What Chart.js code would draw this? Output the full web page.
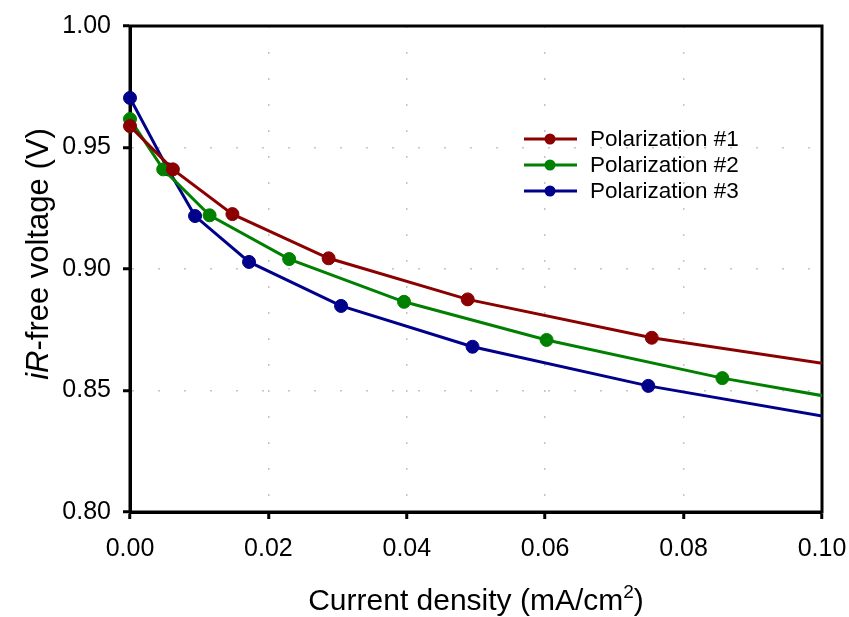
<!DOCTYPE html>
<html>
<head>
<meta charset="utf-8">
<script src="https://cdn.jsdelivr.net/npm/chart.js@4/dist/chart.umd.min.js"></script>
<style>
  html, body { margin: 0; padding: 0; background: #fff; overflow: hidden; }
  canvas { display: block; }
</style>
</head>
<body>
<canvas id="chart" width="849" height="617"></canvas>
<script>
// values (current density in mA/cm2, iR-free voltage in V)
const pol1X = [0, 0.0062, 0.0148, 0.0287, 0.0488, 0.0754, 0.110];
const pol1Y = [0.9588, 0.941, 0.9226, 0.9044, 0.8875, 0.8717, 0.8569];
const pol2X = [0, 0.0048, 0.0115, 0.0230, 0.0396, 0.0602, 0.0856, 0.110];
const pol2Y = [0.9617, 0.941, 0.9221, 0.9041, 0.8865, 0.8708, 0.8551, 0.8429];
const pol3X = [0, 0.0055, 0.0094, 0.0172, 0.0305, 0.0495, 0.0749, 0.106];
const pol3Y = [0.9704, 0.941, 0.9218, 0.9029, 0.8848, 0.8680, 0.8519, 0.8365];
const seriesNames = ['Polarization #1', 'Polarization #2', 'Polarization #3'];
const seriesColors = ['#8b0000', '#008000', '#00008b'];
const xTicks = [0, 0.02, 0.04, 0.06, 0.08, 0.10];
const yTicks = [0.80, 0.85, 0.90, 0.95, 1.00];

const FONT = "'Liberation Sans', Arial, sans-serif";

function pairs(xs, ys) {
  return xs.map((x, i) => ({ x: x, y: ys[i] }));
}

function makeSet(i, xs, ys) {
  return {
    label: seriesNames[i],
    data: pairs(xs, ys),
    borderColor: seriesColors[i],
    backgroundColor: seriesColors[i],
    borderWidth: 3,
    pointRadius: 6.5,
    pointBorderWidth: 1,
    pointHoverRadius: 6.5,
    tension: 0,
    clip: { left: 10, top: 10, right: 0, bottom: 0 }
  };
}

// box round the plot, drawn under the markers
const frame = {
  id: 'frame',
  beforeDatasetsDraw(chart) {
    const a = chart.chartArea, ctx = chart.ctx;
    ctx.save();
    ctx.strokeStyle = '#000';
    ctx.lineWidth = 3;
    ctx.strokeRect(a.left, a.top, a.right - a.left, a.bottom - a.top);
    ctx.restore();
  }
};

// axis titles with italic part and superscript
const titles = {
  id: 'titles',
  afterDraw(chart) {
    const ctx = chart.ctx;
    ctx.save();
    ctx.fillStyle = '#000';
    ctx.textBaseline = 'alphabetic';

    // x title
    const main = 'Current density (mA/cm', sup = '2', tail = ')';
    ctx.font = '30px ' + FONT;
    const wMain = ctx.measureText(main).width;
    const wTail = ctx.measureText(tail).width;
    ctx.font = '19px ' + FONT;
    const wSup = ctx.measureText(sup).width;
    let x = 476 - (wMain + wSup + wTail) / 2;
    const base = 610;
    ctx.font = '30px ' + FONT;
    ctx.fillText(main, x, base);
    x += wMain;
    ctx.font = '19px ' + FONT;
    ctx.fillText(sup, x, base - 12);
    x += wSup;
    ctx.font = '30px ' + FONT;
    ctx.fillText(tail, x, base);

    // y title, rotated
    ctx.translate(48, 254);
    ctx.rotate(-Math.PI / 2);
    const ital = 'iR', rest = '-free voltage (V)';
    ctx.font = 'italic 31px ' + FONT;
    const wI = ctx.measureText(ital).width;
    ctx.font = '31px ' + FONT;
    const wR = ctx.measureText(rest).width;
    let yx = -(wI + wR) / 2;
    ctx.font = 'italic 31px ' + FONT;
    ctx.fillText(ital, yx, 0);
    ctx.font = '31px ' + FONT;
    ctx.fillText(rest, yx + wI, 0);
    ctx.restore();
  }
};

// legend inside the plot
const legendBox = {
  id: 'legendBox',
  afterDraw(chart) {
    const ctx = chart.ctx;
    ctx.save();
    chart.data.datasets.forEach((ds, i) => {
      const y = 139 + i * 26;
      ctx.strokeStyle = ds.borderColor;
      ctx.lineWidth = 3;
      ctx.beginPath();
      ctx.moveTo(524, y);
      ctx.lineTo(577, y);
      ctx.stroke();
      ctx.fillStyle = ds.borderColor;
      ctx.beginPath();
      ctx.arc(550, y, 5.5, 0, Math.PI * 2);
      ctx.fill();
      ctx.fillStyle = '#000';
      ctx.font = '22.5px ' + FONT;
      ctx.textBaseline = 'middle';
      ctx.fillText(ds.label, 590, y + 1);
    });
    ctx.restore();
  }
};

new Chart(document.getElementById('chart'), {
  type: 'line',
  data: {
    datasets: [
      makeSet(0, pol1X, pol1Y),
      makeSet(1, pol2X, pol2Y),
      makeSet(2, pol3X, pol3Y)
    ]
  },
  options: {
    responsive: false,
    animation: false,
    layout: { padding: { left: 0, right: 27, top: 26, bottom: 0 } },
    plugins: {
      legend: { display: false },
      tooltip: { enabled: false }
    },
    scales: {
      x: {
        type: 'linear',
        min: 0,
        max: 0.1,
        afterFit(scale) {
          scale.height = 105;
          scale.paddingLeft = 0;
          scale.paddingRight = 0;
        },
        afterBuildTicks(scale) { scale.ticks = xTicks.map(v => ({ value: v })); },
        ticks: {
          padding: 15,
          color: '#000',
          font: { family: FONT, size: 25 },
          maxRotation: 0,
          callback: v => v.toFixed(2)
        },
        grid: {
          color: '#c4c4c4',
          lineWidth: 1.5,
          tickColor: '#000',
          tickWidth: 3,
          tickLength: 7
        },
        border: { color: '#000', width: 3, dash: [2, 24] }
      },
      y: {
        type: 'linear',
        min: 0.8,
        max: 1.0,
        afterFit(scale) {
          scale.width = 130;
          scale.paddingTop = 0;
          scale.paddingBottom = 0;
        },
        afterBuildTicks(scale) { scale.ticks = yTicks.map(v => ({ value: v })); },
        ticks: {
          padding: 12,
          color: '#000',
          font: { family: FONT, size: 25 },
          callback: v => v.toFixed(2)
        },
        grid: {
          color: '#c4c4c4',
          lineWidth: 1.5,
          tickColor: '#000',
          tickWidth: 3,
          tickLength: 7
        },
        border: { color: '#000', width: 3, dash: [2, 24] }
      }
    }
  },
  plugins: [frame, titles, legendBox]
});
</script>
</body>
</html>
